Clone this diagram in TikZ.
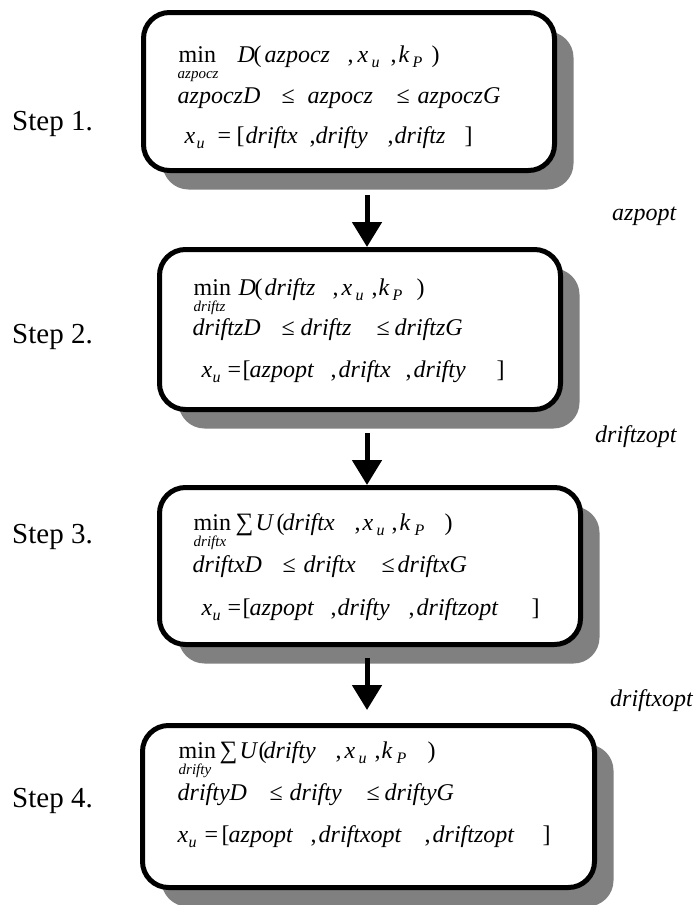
\documentclass[tikz,border=0pt]{standalone}
\usepackage{fontspec}
\setmainfont{Liberation Serif}
\usetikzlibrary{arrows.meta,shadows}
\definecolor{shadowgray}{RGB}{128,128,128}
\newcommand{\I}[1]{\textit{#1}}
\newcommand{\px}[2]{\rlap{\hspace*{#1pt}#2}}
\newcommand{\sbf}{\fontsize{16}{16}\selectfont\itshape}
\newcommand{\sbx}[1]{\lower5pt\hbox{\sbf #1}}
\newcommand{\undr}[1]{\lower16pt\hbox{\fontsize{15}{15}\selectfont\itshape #1}}
\newcommand{\sumsym}{{\fontsize{25}{25}\selectfont ∑}}
\begin{document}
\begin{tikzpicture}[x=1pt,y=-1pt,
  stepbox/.style={draw=black, line width=5pt, rounded corners=26pt, fill=white, inner sep=0pt,
    drop shadow={shadow xshift=19pt, shadow yshift=-19pt, fill=shadowgray, opacity=1}},
  ln/.style={anchor=base west, inner sep=0pt, font=\fontsize{24}{24}\selectfont},
  steplbl/.style={anchor=base west, inner sep=0pt, font=\fontsize{29}{29}\selectfont},
  optlbl/.style={anchor=base west, inner sep=0pt, font=\fontsize{24}{24}\selectfont\itshape},
  arr/.style={line width=5pt, -{Triangle[width=29pt,length=25pt]}}]
\useasboundingbox (0,0) rectangle (698,905);
% boxes
\node[stepbox, minimum width=411pt, minimum height=158pt] (b1) at (349,91.5) {};
\node[stepbox, minimum width=401pt, minimum height=160pt] (b2) at (360,329.5) {};
\node[stepbox, minimum width=421pt, minimum height=157pt] (b3) at (370,566) {};
\node[stepbox, minimum width=452pt, minimum height=162pt] (b4) at (368.5,806.5) {};
% arrows
\coordinate (a1s) at (367,195);
\coordinate (a2s) at (367,433);
\coordinate (a3s) at (367,658);
\coordinate (a3e) at (367,710);
\draw[arr] (a1s) -- (a1s |- b2.north);
\draw[arr] (a2s) -- (a2s |- b3.north);
\draw[arr] (a3s) -- (a3e);
% step labels
\node[steplbl] (s1) at (12,130) {Step 1.};
\node[steplbl] (s2) at (12,343) {Step 2.};
\node[steplbl] (s3) at (12,543) {Step 3.};
\node[steplbl] (s4) at (12,807) {Step 4.};
% right labels
\node[optlbl] (o1) at (612,220) {azpopt};
\node[optlbl] (o2) at (595,442) {driftzopt};
\node[optlbl] (o3) at (610,706) {driftxopt};
% box 1
\node[ln] (l11) at (0,62) {\px{178}{min}\px{177}{\undr{azpocz}}\px{237}{\I{D}}\px{253}{(}\px{264}{\I{azpocz}}\px{347}{,}\px{357}{\I{x}}\px{371}{\sbx{u}}\px{390}{,}\px{398}{\I{k}}\px{412}{\sbx{P}}\px{431}{)}};
\node[ln] (l12) at (0,103) {\px{177}{\I{azpoczD}}\px{281}{≤}\px{307}{\I{azpocz}}\px{396}{≤}\px{417}{\I{azpoczG}}};
\node[ln] (l13) at (0,143) {\px{184}{\I{x}}\px{196}{\sbx{u}}\px{217}{=}\px{236}{[}\px{245}{\I{driftx}}\px{309}{,}\px{315}{\I{drifty}}\px{387}{,}\px{394}{\I{driftz}}\px{464}{]}};
% box 2
\node[ln] (l21) at (0,295) {\px{193}{min}\px{193}{\undr{driftz}}\px{238}{\I{D}}\px{254}{(}\px{264}{\I{driftz}}\px{332}{,}\px{341}{\I{x}}\px{355}{\sbx{u}}\px{371}{,}\px{378}{\I{k}}\px{392}{\sbx{P}}\px{416}{)}};
\node[ln] (l22) at (0,335) {\px{192}{\I{driftzD}}\px{281}{≤}\px{300}{\I{driftz}}\px{376}{≤}\px{394}{\I{driftzG}}};
\node[ln] (l23) at (0,377) {\px{201}{\I{x}}\px{212}{\sbx{u}}\px{227}{=}\px{242}{[}\px{249}{\I{azpopt}}\px{330}{,}\px{338}{\I{driftx}}\px{405}{,}\px{413}{\I{drifty}}\px{496}{]}};
% box 3
\node[ln] (l31) at (0,530) {\px{193}{min}\px{193}{\undr{driftx}}\px{235}{\sumsym}\px{255}{\I{U}}\px{276}{(}\px{282}{\I{driftx}}\px{354}{,}\px{362}{\I{x}}\px{376}{\sbx{u}}\px{391}{,}\px{399}{\I{k}}\px{414}{\sbx{P}}\px{444}{)}};
\node[ln] (l32) at (0,572) {\px{192}{\I{driftxD}}\px{282}{≤}\px{303}{\I{driftx}}\px{381}{≤}\px{397}{\I{driftxG}}};
\node[ln] (l33) at (0,615) {\px{201}{\I{x}}\px{212}{\sbx{u}}\px{227}{=}\px{242}{[}\px{249}{\I{azpopt}}\px{330}{,}\px{337}{\I{drifty}}\px{408}{,}\px{416}{\I{driftzopt}}\px{531}{]}};
% box 4
\node[ln] (l41) at (0,758) {\px{178}{min}\px{178}{\undr{drifty}}\px{219}{\sumsym}\px{239}{\I{U}}\px{258}{(}\px{263}{\I{drifty}}\px{335}{,}\px{344}{\I{x}}\px{358}{\sbx{u}}\px{374}{,}\px{381}{\I{k}}\px{396}{\sbx{P}}\px{427}{)}};
\node[ln] (l42) at (0,800) {\px{177}{\I{driftyD}}\px{269}{≤}\px{289}{\I{drifty}}\px{366}{≤}\px{384}{\I{driftyG}}};
\node[ln] (l43) at (0,842) {\px{177}{\I{x}}\px{188}{\sbx{u}}\px{204}{=}\px{221}{[}\px{228}{\I{azpopt}}\px{310}{,}\px{318}{\I{driftxopt}}\px{424}{,}\px{432}{\I{driftzopt}}\px{542}{]}};
\end{tikzpicture}
\end{document}
